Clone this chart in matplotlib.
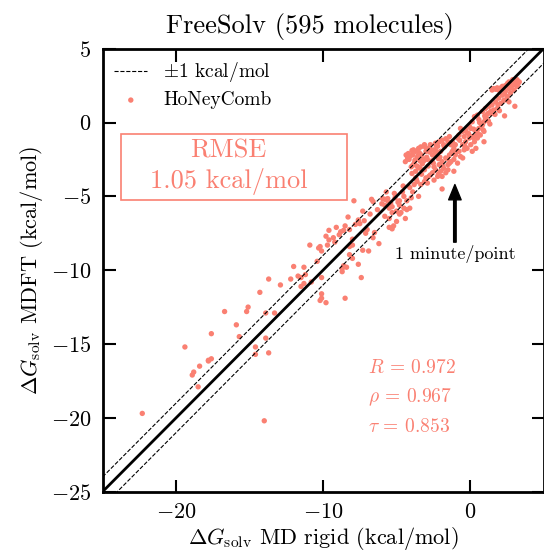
import numpy as np
import matplotlib
matplotlib.use("Agg")
import matplotlib.pyplot as plt
from matplotlib.patches import Rectangle

plt.rcParams['font.family'] = 'cmr10'
plt.rcParams['mathtext.fontset'] = 'cm'
plt.rcParams['axes.formatter.use_mathtext'] = True

SALMON = '#FA8072'

# === data (kcal/mol) ===
md_rigid = [
    -22.3, -14.0, -19.4, -18.9, -18.8, -18.4, -18.5, -17.8, -17.6, -17.8,
    -17.6, -16.7, -15.9, -15.7, -15.2, -15.1, -14.6, -14.6, -13.9, -13.9,
    -13.7, -13.3, -14.3, -13.7, -12.9, -12.2, -12.0, -11.7, -11.3, -11.5,
    -11.3, -11.5, -11.2, -10.9, -10.8, -10.4, -10.3, -10.2, -10.1, -10.1,
    -10.2, -9.8, -10.1, -10.1, -9.8, -9.6, -9.7, -9.6, -9.3, -9.2,
    -9.1, -8.9, -8.8, -8.6, -8.5, -8.3, -8.2, -8.2, -8.0, -7.9,
    -8.0, -7.8, -7.6, -7.5, -7.3, -7.3, -6.9, -6.7, -7.2, -7.0,
    -6.8, -6.6, -6.2, -8.7, -8.6, -8.7, -8.4, -8.5, -7.6, -7.4,
    -8.0, -8.2,
    -5.8, -5.8, -5.6, -5.5, -5.4, -5.3, -5.1, -5.0, -4.8, -4.8,
    -4.5, -4.4, -4.3, -4.1, -4.1, -3.9, -5.8, -5.5, -5.3, -5.0,
    -4.8, -5.3, -3.5, -1.9, -1.1, -4.6,
    -4.25, -4.1, -4.4, -3.9, -3.8, -3.7, -3.6, -3.5, -3.4, -3.3,
    -3.1, -3.0, -2.9, -2.8, -2.7, -2.55, -2.45, -2.35, -2.2, -2.1,
    -2.0, -1.9, -1.8, -1.65, -1.5, -1.4, -3.5, -3.7, -3.3, -3.1,
    -3.0, -2.8, -2.9, -2.55, -2.45, -2.35, -2.2, -2.1, -2.0, -1.9,
    -1.8, -1.65, -1.5, -1.4, -1.3, -1.2, -1.1, -1.0, -0.85, -0.75,
    -0.65, -0.5, -0.4, -0.3, -0.2, -0.05, 0.05, 0.15, 0.3, 0.4,
    0.5, 0.6, 0.7, 0.85, 0.95, 1.05, 0.95, 0.4, 0.15, 0.3,
    0.5, 0.6, 0.85, 1.05, 1.2, 1.3, 1.4, 1.5, 1.6, 1.75,
    1.85, 1.95, 2.1, 2.2, 2.3, 2.4, 2.55, 2.65, 2.75, 2.9,
    3.0, 3.1, 3.2, 1.5, 1.6, 1.75, 1.85, 1.95, 2.1, 2.2,
    2.3, 2.4, 2.55, 2.65, 2.75, 2.9, 3.1, 3.2, 3.35, 3.05,
    2.35, 2.65, 0.95, 0.35, -0.05, -0.3, -0.5, -0.65, -0.75, -0.4,
    -0.2, 0.05, -1.2, -1.0, -0.85, -1.1, -1.3, -1.4, -1.5, -1.65,
    -1.9, 0.15, -0.85, -0.5,
    -5.5, -5.2, -4.7, -4.5, -4.3, -4.0, -3.8, -3.6, -3.35, -3.7,
    -6.6, -5.95, -5.7,
    -4.2, -3.95, -3.75, -3.45, -3.25, -2.95, -2.65, -2.4, -2.25, -4.0,
    -3.6, -3.2, -2.85, -2.5, -2.15, -1.75, -3.85, -3.05, -2.6, -2.3,
    0.8, 1.1, 1.35, 1.7, 2.0, 2.45, 0.2, 0.55, 0.9, 1.25,
    -4.35, -4.15, -3.9, -3.55, -3.35, -3.15, -2.75, -2.55, -2.3, -2.05,
    -3.95, -3.65, -3.4, -3.1, -2.7, -2.45, -2.15, -1.85, -1.55, -1.25,
    -0.95, -0.7, -0.35, -0.1, 0.25, 0.65, 1.0, 1.45, 1.9, 2.35,
    2.8, 3.25, -6.3, -6.0, -5.6, -5.15, -4.9, -4.55, -7.1, -6.5,
]
mdft = [
    -19.7, -20.2, -15.2, -17.1, -16.9, -16.5, -17.9, -16.1, -16.0, -16.15,
    -14.3, -12.8, -13.7, -14.5, -12.8, -12.5, -15.2, -15.7, -14.6, -12.9,
    -15.6, -12.9, -11.5, -10.6, -11.0, -10.6, -9.75, -10.4, -9.8, -10.5,
    -10.9, -11.1, -10.3, -8.3, -10.8, -9.4, -8.5, -8.4, -8.7, -11.6,
    -12.05, -12.2, -11.9, -10.5, -7.7, -7.3, -8.3, -7.95, -7.8, -8.1,
    -7.1, -7.6, -7.4, -7.3, -7.0, -6.4, -7.25, -8.4, -8.3, -5.3,
    -7.9, -6.9, -6.6, -6.85, -6.0, -8.65, -8.7, -5.2, -6.65, -7.25,
    -6.2, -7.8, -8.2, -9.9, -9.7, -10.1, -9.8, -11.9, -9.6, -10.5,
    -9.2, -8.95,
    -5.6, -5.2, -5.3, -5.8, -5.45, -5.7, -5.1, -6.0, -5.3, -5.6,
    -5.0, -6.5, -5.9, -5.8, -4.4, -4.7, -6.35, -7.1, -7.2, -6.7,
    -6.2, -6.1, -5.0, -4.5, -3.3, -4.7,
    -2.4, -2.3, -2.65, -2.2, -2.75, -1.95, -2.4, -1.75, -2.6, -2.2,
    -1.5, -1.95, -2.5, -1.75, -1.5, -2.2, -1.85, -1.4, -1.6, -1.3,
    -1.95, -1.2, -1.5, -1.1, -1.3, -0.95, -3.05, -3.3, -3.5, -3.2,
    -3.75, -3.65, -4.1, -3.4, -3.9, -3.2, -3.65, -2.85, -3.3, -2.65,
    -3.1, -2.4, -2.85, -2.2, -2.65, -1.95, -2.5, -2.2, -2.75, -1.95,
    -2.3, -1.5, -1.85, -1.3, -1.75, -1.05, -1.5, -0.95, -1.3, -0.6,
    -1.05, -0.4, -0.85, -0.15, 0.05, 0.3, -1.3, -1.75, 0.05, 0.4,
    0.5, 0.2, 0.75, 0.95, 0.6, 1.1, 0.75, 1.2, 0.85, 1.4,
    0.95, 1.65, 1.3, 1.85, 1.5, 2.1, 1.75, 2.3, 2.0, 2.55,
    2.2, 2.75, 2.45, 2.2, 2.3, 2.25, 2.35, 2.2, 2.35, 2.45,
    2.3, 2.5, 2.65, 2.75, 2.6, 2.9, 2.55, 2.9, 2.75, 1.1,
    0.45, 1.4, -0.6, -0.95, -0.25, -0.5, -0.6, -0.4, -0.85, -0.95,
    -0.7, -0.4, -1.3, -1.5, -1.05, -1.75, -1.5, -2.75, -3.2, -3.4,
    -3.65, -1.95, -1.95, -2.4,
    -6.5, -7.0, -6.1, -5.8, -5.3, -5.1, -4.2, -4.0, -4.2, -3.75,
    -5.35, -5.15, -4.7,
    -2.1, -1.9, -2.55, -2.05, -2.8, -2.35, -1.85, -2.1, -1.6, -3.0,
    -2.95, -2.5, -2.95, -2.75, -2.45, -1.65, -1.85, -1.65, -2.6, -1.55,
    -0.2, 0.35, -0.1, 0.55, 0.8, 1.55, -1.0, -0.75, -0.5, 0.1,
    -2.2, -2.5, -2.9, -2.25, -1.65, -2.6, -2.0, -2.7, -1.95, -2.35,
    -3.45, -3.85, -3.1, -4.0, -3.55, -3.0, -3.5, -2.95, -2.45, -2.05,
    -2.0, -1.2, -1.6, -0.75, -0.45, 0.0, 0.45, 0.6, 1.2, 1.95,
    2.35, 2.6, -5.9, -5.5, -5.15, -4.8, -5.4, -4.3, -7.5, -7.45,
]

title = "FreeSolv (595 molecules)"
rmse_text = "1.05 kcal/mol"
stats = [r"$R$ = 0.972", r"$\rho$ = 0.967", r"$\tau$ = 0.853"]
lims = [-25, 5]

fig = plt.figure(figsize=(5.44, 5.54), dpi=100)
ax = fig.add_axes([0.1886, 0.1125, 0.8105, 0.7996])

diag = np.array(lims)
ax.plot(diag, diag + 1, '--', color='black', lw=0.8, zorder=3, label=r'$\pm$1 kcal/mol')
ax.plot(diag, diag - 1, '--', color='black', lw=0.8, zorder=3)
ax.plot(diag, diag, '-', color='black', lw=2.0, zorder=3)
ax.scatter(md_rigid, mdft, s=15, color=SALMON, edgecolors='none', zorder=2, label='HoNeyComb')

ax.set_xlim(lims)
ax.set_ylim(lims)
ax.set_xticks([-20, -10, 0])
ax.set_yticks([5, 0, -5, -10, -15, -20, -25])
ax.tick_params(direction='in', length=9, width=1.5, top=True, right=True, labelsize=16, pad=8)
for s in ax.spines.values():
    s.set_linewidth(2)

ax.set_xlabel(r'$\Delta G_{\rm solv}$ MD rigid (kcal/mol)', fontsize=16, labelpad=2)
ax.set_ylabel(r'$\Delta G_{\rm solv}$ MDFT (kcal/mol)', fontsize=16, labelpad=4)
fig.text(310 / 544, 1 - 26 / 554, title, fontsize=19, ha='center', va='center')

ax.legend(loc='upper left', frameon=False, fontsize=14, handlelength=1.7,
          borderaxespad=0.2, labelspacing=0.35, scatterpoints=1, markerscale=1.0)

# RMSE box
ax.add_patch(Rectangle((0.042, 0.6585), 0.512, 0.149, transform=ax.transAxes,
                       fill=False, ec=SALMON, lw=1.2))
ax.text(0.2855, 0.771, 'RMSE', transform=ax.transAxes, color=SALMON,
        fontsize=19, ha='center', va='center')
ax.text(0.2855, 0.700, rmse_text, transform=ax.transAxes, color=SALMON,
        fontsize=19, ha='center', va='center')

for i, t in enumerate(stats):
    ax.text(0.602, 0.279 - i * 0.0665, t, transform=ax.transAxes, color=SALMON,
            fontsize=14, ha='left', va='center')

ax.annotate('1 minute/point', xy=(-1.03, -4.2), xytext=(-1.03, -8.9),
            ha='center', va='center', fontsize=13,
            arrowprops=dict(facecolor='black', edgecolor='black', width=1.8,
                            headwidth=9, headlength=11, shrink=0))

fig.savefig('out.png', dpi=100)
